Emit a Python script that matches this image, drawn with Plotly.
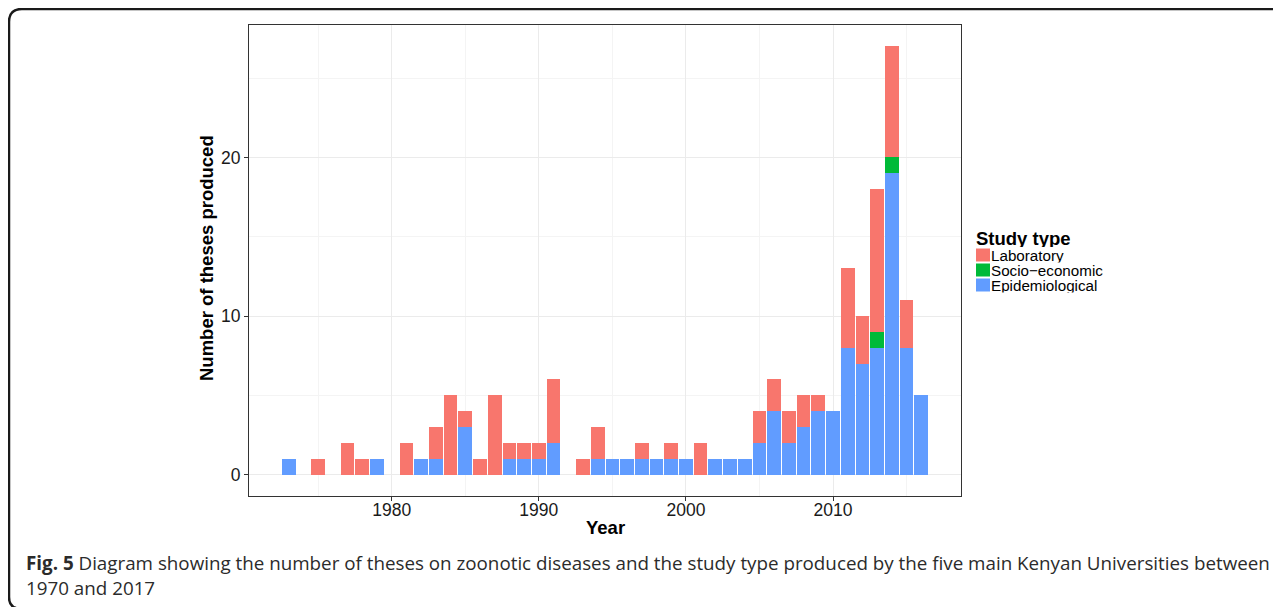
import plotly.graph_objects as go

# ---- data ----
years = list(range(1973, 2017))
epidemiological = [1, 0, 0, 0, 0, 0, 1, 0, 0, 1, 1, 0, 3, 0, 0, 1, 1, 1, 2, 0, 0, 1,
                   1, 1, 1, 1, 1, 1, 0, 1, 1, 1, 2, 4, 2, 3, 4, 4, 8, 7, 8, 19, 8, 5]
socio_economic = [0, 0, 0, 0, 0, 0, 0, 0, 0, 0, 0, 0, 0, 0, 0, 0, 0, 0, 0, 0, 0, 0,
                  0, 0, 0, 0, 0, 0, 0, 0, 0, 0, 0, 0, 0, 0, 0, 0, 0, 0, 1, 1, 0, 0]
laboratory = [0, 0, 1, 0, 2, 1, 0, 0, 2, 0, 2, 5, 1, 1, 5, 1, 1, 1, 4, 0, 1, 2,
              0, 0, 1, 0, 1, 0, 2, 0, 0, 0, 2, 2, 2, 2, 1, 0, 5, 3, 9, 7, 3, 0]
series_names = ["Laboratory", "Socio\u2212economic", "Epidemiological"]
series_colors = ["#F8766D", "#00BA38", "#619CFF"]
x_ticks = [1980, 1990, 2000, 2010]
y_ticks = [0, 10, 20]

# page offset (body margin) compensation: target pixel coords are window coords
OFF = 8
W, H = 1281 - OFF, 607 - OFF
ML, MR, MT, MB = 249 - OFF, 1281 - 961, 25 - OFF, 607 - 496
PW, PH = W - ML - MR, H - MT - MB


def px2x(px):
    return (px - OFF - ML) / PW


def px2y(py):
    return (H - MB - (py - OFF)) / PH


fig = go.Figure()
for name, vals, col in [(series_names[2], epidemiological, series_colors[2]),
                        (series_names[1], socio_economic, series_colors[1]),
                        (series_names[0], laboratory, series_colors[0])]:
    fig.add_trace(go.Bar(x=years, y=vals, name=name, marker=dict(color=col, line=dict(width=0)),
                         showlegend=False))

axis_common = dict(showline=True, mirror=True, linecolor="#333333", linewidth=1,
                   ticks="outside", ticklen=4, tickcolor="#333333",
                   gridcolor="#EBEBEB", gridwidth=1, zeroline=False,
                   tickfont=dict(family="Liberation Sans, Arial", size=17.5, color="#1a1a1a"))

fig.update_layout(
    width=W, height=H,
    margin=dict(l=ML, r=MR, t=MT, b=MB, autoexpand=False),
    paper_bgcolor="white", plot_bgcolor="white",
    barmode="stack", bargap=0.068,
    xaxis=dict(range=[1970.3, 2018.7], tickvals=x_ticks, ticklabelstandoff=-6,
               minor=dict(dtick=5, tick0=1975, showgrid=True, gridcolor="#F4F4F4", ticks=""),
               **axis_common),
    yaxis=dict(range=[-1.35, 28.35], tickvals=y_ticks,
               minor=dict(dtick=5, tick0=0, showgrid=True, gridcolor="#F4F4F4", ticks=""),
               **axis_common),
    showlegend=False,
)

annots = []
# axis titles
annots.append(dict(text="<b>Year</b>", x=0.5, y=px2y(527), xref="paper", yref="paper",
                   showarrow=False, xanchor="center", yanchor="middle",
                   font=dict(family="Liberation Sans, Arial", size=18.5, color="black")))
annots.append(dict(text="<b>Number of theses produced</b>", x=px2x(206), y=px2y(258),
                   xref="paper", yref="paper", showarrow=False, textangle=-90,
                   xanchor="center", yanchor="middle",
                   font=dict(family="Liberation Sans, Arial", size=18.5, color="black")))
# legend (drawn manually)
annots.append(dict(text="<b>Study type</b>", x=px2x(975), y=px2y(237.5), xref="paper",
                   yref="paper", showarrow=False, xanchor="left", yanchor="middle",
                   height=18, borderpad=0,
                   font=dict(family="Liberation Sans, Arial", size=18.5, color="black")))
shapes = []
legend_rows = [255, 270, 285]
for name, col, cy in zip(series_names, series_colors, legend_rows):
    shapes.append(dict(type="rect", xref="paper", yref="paper",
                       x0=px2x(976), x1=px2x(990), y0=px2y(cy + 6.5), y1=px2y(cy - 6.5),
                       fillcolor=col, line=dict(width=0)))
    annots.append(dict(text=name, x=px2x(990), y=px2y(cy), xref="paper", yref="paper",
                       showarrow=False, xanchor="left", yanchor="middle", height=14.6,
                       borderpad=0,
                       font=dict(family="Liberation Sans, Arial", size=15.2, color="black")))
# caption
annots.append(dict(text="<b>Fig. 5</b> Diagram showing the number of theses on zoonotic diseases and "
                        "the study type produced by the five main Kenyan Universities between",
                   x=px2x(24), y=px2y(563), xref="paper", yref="paper", showarrow=False,
                   xanchor="left", yanchor="middle",
                   font=dict(family="Open Sans", size=18.8, color="#2b2b2b")))
annots.append(dict(text="1970 and 2017", x=px2x(24), y=px2y(588), xref="paper", yref="paper",
                   showarrow=False, xanchor="left", yanchor="middle",
                   font=dict(family="Open Sans", size=18.8, color="#2b2b2b")))

# outer rounded frame
pts = [(1300, 9), (22, 9), (9, 9), (9, 22), (9, 597), (9, 606), (16, 608)]
p = [(px2x(a), px2y(b)) for a, b in pts]
path = (f"M {p[0][0]},{p[0][1]} L {p[1][0]},{p[1][1]} Q {p[2][0]},{p[2][1]} {p[3][0]},{p[3][1]} "
        f"L {p[4][0]},{p[4][1]} Q {p[5][0]},{p[5][1]} {p[6][0]},{p[6][1]}")
shapes.append(dict(type="path", xref="paper", yref="paper", path=path,
                   line=dict(color="#1a1a1a", width=2.5)))

fig.update_layout(annotations=annots, shapes=shapes)
fig.write_html("out.html")
